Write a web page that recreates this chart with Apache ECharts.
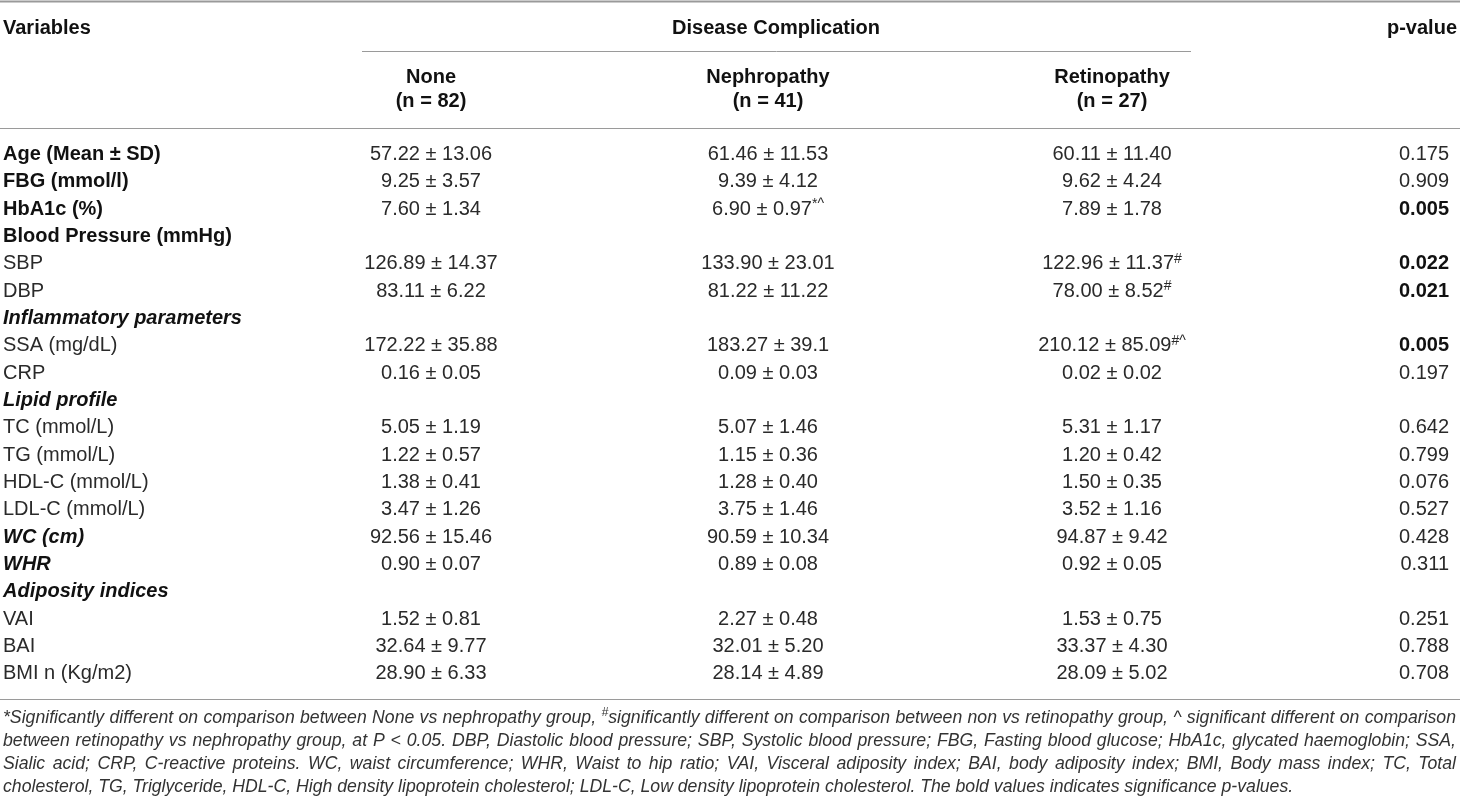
<!DOCTYPE html>
<html>
<head>
<meta charset="utf-8">
<script src="https://cdn.jsdelivr.net/npm/echarts@6/dist/echarts.min.js"></script>
<style>
  html, body { margin: 0; padding: 0; background: #fff; }
  #table { width: 1460px; height: 807px; }
</style>
</head>
<body>
<div id="table"></div>
<script>
// table rows
const rowLabels = ['Age (Mean ± SD)', 'FBG (mmol/l)', 'HbA1c (%)', 'Blood Pressure (mmHg)', 'SBP', 'DBP',
  'Inflammatory parameters', 'SSA (mg/dL)', 'CRP', 'Lipid profile', 'TC (mmol/L)', 'TG (mmol/L)',
  'HDL-C (mmol/L)', 'LDL-C (mmol/L)', 'WC (cm)', 'WHR', 'Adiposity indices', 'VAI', 'BAI', 'BMI n (Kg/m2)'];
// b = bold, bi = bold italic, n = plain
const rowKind = ['b', 'b', 'b', 'b', 'n', 'n', 'bi', 'n', 'n', 'bi', 'n', 'n', 'n', 'n', 'bi', 'bi', 'bi', 'n', 'n', 'n'];

const groupNames = ['None', 'Nephropathy', 'Retinopathy'];
const groupSizes = [82, 41, 27];

const noneVals = ['57.22 ± 13.06', '9.25 ± 3.57', '7.60 ± 1.34', '', '126.89 ± 14.37', '83.11 ± 6.22', '',
  '172.22 ± 35.88', '0.16 ± 0.05', '', '5.05 ± 1.19', '1.22 ± 0.57', '1.38 ± 0.41', '3.47 ± 1.26',
  '92.56 ± 15.46', '0.90 ± 0.07', '', '1.52 ± 0.81', '32.64 ± 9.77', '28.90 ± 6.33'];
const nephVals = ['61.46 ± 11.53', '9.39 ± 4.12', '6.90 ± 0.97', '', '133.90 ± 23.01', '81.22 ± 11.22', '',
  '183.27 ± 39.1', '0.09 ± 0.03', '', '5.07 ± 1.46', '1.15 ± 0.36', '1.28 ± 0.40', '3.75 ± 1.46',
  '90.59 ± 10.34', '0.89 ± 0.08', '', '2.27 ± 0.48', '32.01 ± 5.20', '28.14 ± 4.89'];
const retVals = ['60.11 ± 11.40', '9.62 ± 4.24', '7.89 ± 1.78', '', '122.96 ± 11.37', '78.00 ± 8.52', '',
  '210.12 ± 85.09', '0.02 ± 0.02', '', '5.31 ± 1.17', '1.20 ± 0.42', '1.50 ± 0.35', '3.52 ± 1.16',
  '94.87 ± 9.42', '0.92 ± 0.05', '', '1.53 ± 0.75', '33.37 ± 4.30', '28.09 ± 5.02'];
const noneMarks = ['', '', '', '', '', '', '', '', '', '', '', '', '', '', '', '', '', '', '', ''];
const nephMarks = ['', '', '*^', '', '', '', '', '', '', '', '', '', '', '', '', '', '', '', '', ''];
const retMarks = ['', '', '', '', '#', '#', '', '#^', '', '', '', '', '', '', '', '', '', '', '', ''];
const pValues = ['0.175', '0.909', '0.005', '', '0.022', '0.021', '', '0.005', '0.197', '', '0.642', '0.799',
  '0.076', '0.527', '0.428', '0.311', '', '0.251', '0.788', '0.708'];

const footnoteLines = [
  '*Significantly different on comparison between None vs nephropathy group, #significantly different on comparison between non vs retinopathy group, ^ significant different on comparison',
  'between retinopathy vs nephropathy group, at P < 0.05. DBP, Diastolic blood pressure; SBP, Systolic blood pressure; FBG, Fasting blood glucose; HbA1c, glycated haemoglobin; SSA,',
  'Sialic acid; CRP, C-reactive proteins. WC, waist circumference; WHR, Waist to hip ratio; VAI, Visceral adiposity index; BAI, body adiposity index; BMI, Body mass index; TC, Total',
  'cholesterol, TG, Triglyceride, HDL-C, High density lipoprotein cholesterol; LDL-C, Low density lipoprotein cholesterol. The bold values indicates significance p-values.'
];

// layout
const FONT = '"Liberation Sans", Arial, sans-serif';
const SIZE = 20;
const INK = '#2a2a2a';
const RULE = '#9a9a9a';
const colX = { label: 3, none: 431, neph: 768, ret: 1112, p: 1449 };
const groupX = [colX.none, colX.neph, colX.ret];

const chart = echarts.init(document.getElementById('table'), null, { renderer: 'canvas' });

function valueText(x, y, val, mark) {
  const txt = mark ? '{v|' + val + '}{s|' + mark + '}' : '{v|' + val + '}';
  return {
    type: 'text', x: x, y: y,
    style: {
      text: txt, align: 'center', verticalAlign: 'middle', textAlign: 'center', textVerticalAlign: 'middle',
      rich: {
        v: { fontSize: SIZE, fontFamily: FONT, fill: INK, lineHeight: 24 },
        s: { fontSize: 14, fontFamily: FONT, fill: INK, lineHeight: 16, verticalAlign: 'top' }
      }
    }
  };
}

function renderRow(params, api) {
  const i = params.dataIndex;
  const y = api.coord([0, i])[1];
  const px = v => api.coord([v, i])[0];
  const kind = rowKind[i];
  const children = [{
    type: 'text', x: px(colX.label), y: y,
    style: {
      text: rowLabels[i], fontSize: SIZE, fontFamily: FONT,
      fontWeight: kind === 'n' ? 'normal' : 'bold',
      fontStyle: kind === 'bi' ? 'italic' : 'normal',
      fill: kind === 'n' ? INK : '#111',
      align: 'left', verticalAlign: 'middle', textAlign: 'left', textVerticalAlign: 'middle'
    }
  }];
  [[noneVals, noneMarks, colX.none], [nephVals, nephMarks, colX.neph], [retVals, retMarks, colX.ret]]
    .forEach(([vals, marks, cx]) => {
      if (vals[i]) children.push(valueText(px(cx), y, vals[i], marks[i]));
    });
  if (pValues[i]) {
    const sig = Number(pValues[i]) < 0.05;
    children.push({
      type: 'text', x: px(colX.p), y: y,
      style: {
        text: pValues[i], fontSize: SIZE, fontFamily: FONT, fontWeight: sig ? 'bold' : 'normal',
        fill: sig ? '#111' : INK,
        align: 'right', verticalAlign: 'middle', textAlign: 'right', textVerticalAlign: 'middle'
      }
    });
  }
  return { type: 'group', children: children };
}

// header + rules
function hText(text, x, y, align) {
  return {
    type: 'text', x: x, y: y, silent: true,
    style: {
      text: text, fontSize: SIZE, fontFamily: FONT, fontWeight: 'bold', fill: '#111',
      align: align, verticalAlign: 'middle', textAlign: align, textVerticalAlign: 'middle'
    }
  };
}
function rule(x1, x2, y, w) {
  return { type: 'line', silent: true, shape: { x1: x1, y1: y, x2: x2, y2: y }, style: { stroke: RULE, lineWidth: w || 1 } };
}

const graphics = [
  rule(0, 1460, 1.5, 2),
  hText('Variables', 3, 28, 'left'),
  hText('Disease Complication', 776, 28, 'center'),
  hText('p-value', 1457, 28, 'right'),
  rule(362, 1191, 51.5),
  rule(0, 1460, 128.5),
  rule(0, 1460, 699.5)
];
groupNames.forEach((g, k) => {
  graphics.push(hText(g, groupX[k], 77, 'center'));
  graphics.push(hText('(n = ' + groupSizes[k] + ')', groupX[k], 101, 'center'));
});

// footnote, justified like the printed table
const FOOT_L = 3, FOOT_R = 1456;
const footY = [718, 741, 764, 787];
const ctx = document.createElement('canvas').getContext('2d');
function measure(t, fs) {
  ctx.font = 'italic ' + fs + 'px ' + FONT;
  return ctx.measureText(t).width;
}
let footSize = 18;
footnoteLines.slice(0, 3).forEach(l => {
  const w = measure(l, footSize);
  if (w > FOOT_R - FOOT_L) footSize = footSize * (FOOT_R - FOOT_L) / w - 0.05;
});
function footText(t, x, y, fs) {
  return {
    type: 'text', x: x, y: y, silent: true,
    style: {
      text: t, fontSize: fs, fontFamily: FONT, fontStyle: 'italic', fill: '#333',
      align: 'left', verticalAlign: 'middle', textAlign: 'left', textVerticalAlign: 'middle'
    }
  };
}
footnoteLines.forEach((line, li) => {
  const words = line.split(' ').map(w => (w[0] === '#' ? { sup: '#', body: w.slice(1) } : { sup: '', body: w }));
  const supSize = footSize * 0.7;
  words.forEach(w => { w.sw = w.sup ? measure(w.sup, supSize) : 0; w.bw = measure(w.body, footSize); });
  const total = words.reduce((s, w) => s + w.sw + w.bw, 0);
  const justify = li < footnoteLines.length - 1;
  const gap = justify ? (FOOT_R - FOOT_L - total) / (words.length - 1) : measure(' ', footSize);
  let x = FOOT_L;
  const y = footY[li];
  words.forEach(w => {
    if (w.sup) { graphics.push(footText(w.sup, x, y - 5, supSize)); x += w.sw; }
    graphics.push(footText(w.body, x, y, footSize));
    x += w.bw + gap;
  });
});

chart.setOption({
  animation: false,
  grid: { left: 0, right: 0, top: 140.8, height: 546.8 },
  xAxis: { type: 'value', min: 0, max: 1460, show: false },
  yAxis: { type: 'category', data: rowLabels, inverse: true, show: false },
  graphic: graphics,
  series: [{
    type: 'custom',
    renderItem: renderRow,
    encode: { x: 0, y: 1 },
    data: rowLabels.map((r, i) => [0, i])
  }]
});
</script>
</body>
</html>
